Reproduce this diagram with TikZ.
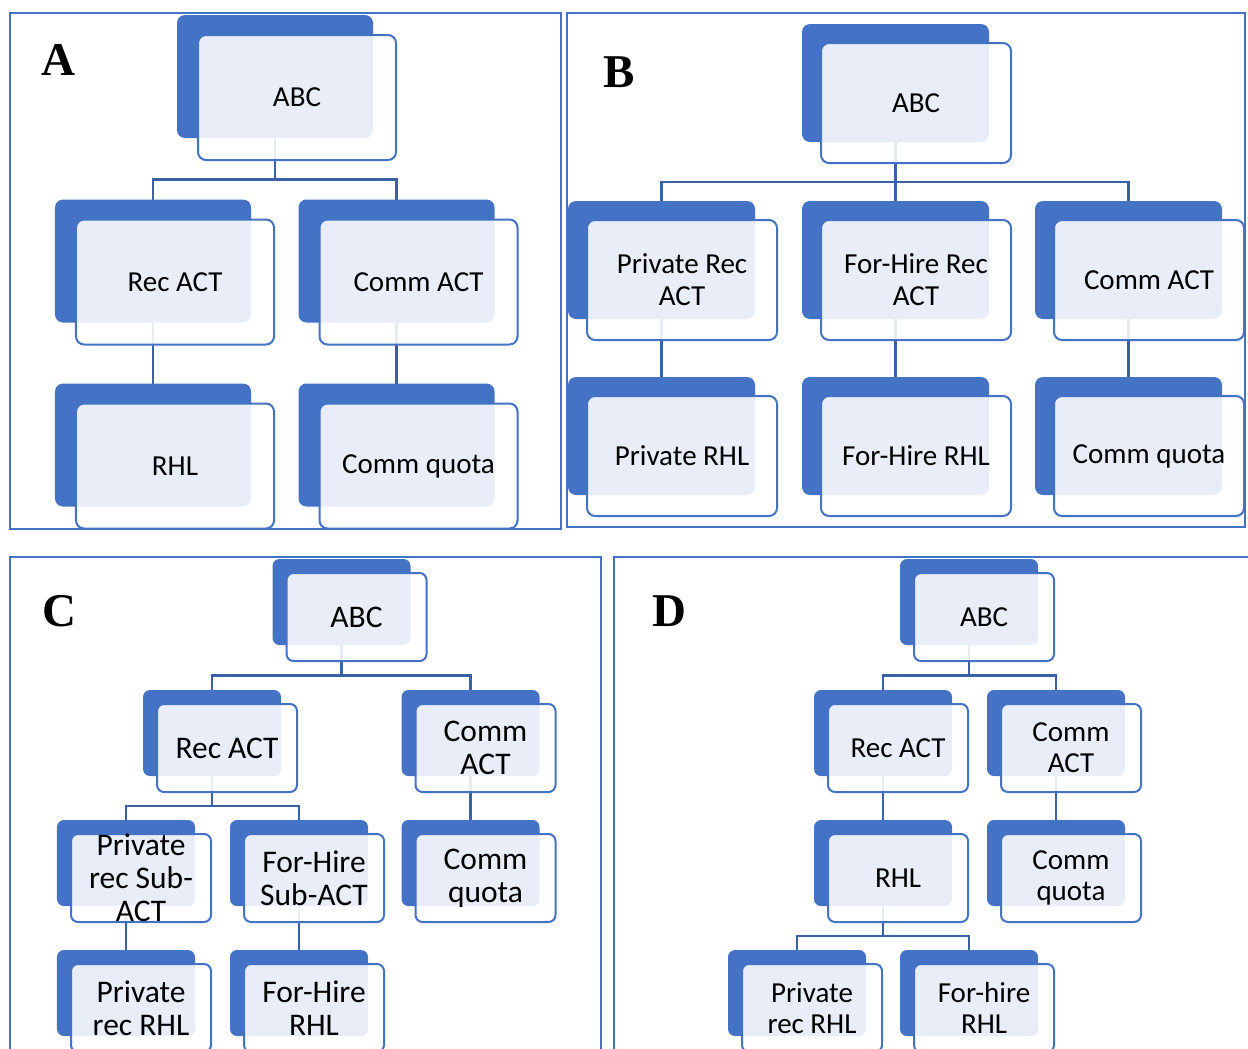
\documentclass[tikz,border=0pt]{standalone}
\usepackage{fontspec}
\setmainfont{Carlito}
\newfontfamily\panelfont{Liberation Serif}
\usepackage{tikz}
\usetikzlibrary{positioning,backgrounds,calc}
\usepackage{xcolor}
\definecolor{smartblue}{HTML}{4472C4}
\definecolor{linkblue}{HTML}{3A61A7}

% dark tab with the see-through card on top of it
\newcommand{\orgbox}[3]{%
  \node[tab] (#1-tab) at (#2) {};
  \node[card] (#1) at (#1-tab.north west) {#3};%
}

\begin{document}
\begin{tikzpicture}[x=1bp, y=-1bp,
  tab/.style={fill=smartblue, inner sep=0pt, outer sep=0pt},
  card/.style={draw=smartblue, line width=2bp, fill=white, fill opacity=0.88, text opacity=1,
    text=black, anchor=north west, inner sep=0pt, outer sep=0pt, align=center},
  big/.style={tab/.append style={minimum width=196bp, minimum height=123bp, rounded corners=8bp},
    card/.append style={minimum width=198bp, minimum height=125bp, rounded corners=8bp,
      xshift=21bp, yshift=-20bp, font=\fontsize{29bp}{32bp}\selectfont}},
  wide/.style={tab/.append style={minimum width=187bp, minimum height=118bp, rounded corners=8bp},
    card/.append style={minimum width=190bp, minimum height=120bp, rounded corners=8bp,
      xshift=19bp, yshift=-19bp, font=\fontsize{29bp}{32bp}\selectfont}},
  small/.style={tab/.append style={minimum width=138bp, minimum height=86bp, rounded corners=7bp},
    card/.append style={minimum width=140bp, minimum height=88bp, rounded corners=7bp,
      xshift=14bp, yshift=-14bp}},
  link/.style={draw=linkblue, line width=2.6bp},
  frame/.style={draw=smartblue, line width=1.6bp},
  panel/.style={font=\panelfont\bfseries\fontsize{47bp}{47bp}\selectfont, inner sep=0pt, anchor=base west}]

\useasboundingbox (0,0) rectangle (1248,1049);
\clip (0,0) rectangle (1248,1049);

% frames
\draw[frame] (10,13) rectangle (561,529);
\draw[frame] (567,13) rectangle (1245,527);
\draw[frame] (10,1060) |- (601,557) -- (601,1060);
\draw[frame] (614,1060) |- (1260,557);

% A
\begin{scope}[big]
\node[panel] (labA) at (41,75) {A};
\orgbox{aABC}{275,76.5}{ABC}
\orgbox{aRec}{153,261}{Rec ACT}
\orgbox{aComm}{396.5,261}{Comm ACT}
\orgbox{aRHL}{153,445}{RHL}
\orgbox{aQuota}{396.5,445}{Comm quota}
\coordinate (aBus) at ($(aABC.south)!.5!(aRec-tab.north)$);
\begin{scope}[on background layer]
  \foreach \kid in {aRec,aComm}
    \draw[link] (aABC-tab.south) -- (aABC-tab.south |- aBus) -| (\kid-tab.north);
  \draw[link] (aRec-tab.south) -- (aRHL-tab.north);
  \draw[link] (aComm-tab.south) -- (aQuota-tab.north);
\end{scope}
\end{scope}

% B
\begin{scope}[wide]
\node[panel] (labB) at (603,87) {B};
\orgbox{bABC}{895.5,83}{ABC}
\orgbox{bPriv}{661.5,260}{Private Rec\\ACT}
\orgbox{bHire}{895.5,260}{For-Hire Rec\\ACT}
\orgbox{bComm}{1128.5,260}{Comm ACT}
\orgbox{bPrivR}{661.5,436}{Private RHL}
\orgbox{bHireR}{895.5,436}{For-Hire RHL}
\orgbox{bQuota}{1128.5,436}{Comm quota}
\coordinate (bBus) at ($(bABC.south)!.5!(bHire-tab.north)$);
\begin{scope}[on background layer]
  \foreach \kid in {bPriv,bHire,bComm}
    \draw[link] (bABC-tab.south) -- (bABC-tab.south |- bBus) -| (\kid-tab.north);
  \draw[link] (bPriv-tab.south) -- (bPrivR-tab.north);
  \draw[link] (bHire-tab.south) -- (bHireR-tab.north);
  \draw[link] (bComm-tab.south) -- (bQuota-tab.north);
\end{scope}
\end{scope}

% C
\begin{scope}[small, card/.append style={font=\fontsize{31.5bp}{33bp}\selectfont}]
\node[panel] (labC) at (42,626) {C};
\orgbox{cABC}{341.5,602}{ABC}
\orgbox{cRec}{212,733}{Rec ACT}
\orgbox{cComm}{470.5,733}{Comm\\ACT}
\orgbox{cPrivS}{126,863}{Private\\rec Sub-\\ACT}
\orgbox{cHireS}{299,863}{For-Hire\\Sub-ACT}
\orgbox{cQuota}{470.5,863}{Comm\\quota}
\orgbox{cPrivR}{126,993}{Private\\rec RHL}
\orgbox{cHireR}{299,993}{For-Hire\\RHL}
\coordinate (cBus) at ($(cABC.south)!.5!(cRec-tab.north)$);
\coordinate (cRecBus) at ($(cRec.south)!.5!(cPrivS-tab.north)$);
\begin{scope}[on background layer]
  \foreach \kid in {cRec,cComm}
    \draw[link] (cABC-tab.south) -- (cABC-tab.south |- cBus) -| (\kid-tab.north);
  \foreach \kid in {cPrivS,cHireS}
    \draw[link] (cRec-tab.south) -- (cRec-tab.south |- cRecBus) -| (\kid-tab.north);
  \draw[link] (cComm-tab.south) -- (cQuota-tab.north);
  \draw[link] (cPrivS-tab.south) -- (cPrivR-tab.north);
  \draw[link] (cHireS-tab.south) -- (cHireR-tab.north);
\end{scope}
\end{scope}

% D
\begin{scope}[small, card/.append style={font=\fontsize{29bp}{31bp}\selectfont}]
\node[panel] (labD) at (652,626) {D};
\orgbox{dABC}{969,602}{ABC}
\orgbox{dRec}{883,733}{Rec ACT}
\orgbox{dComm}{1056,733}{Comm\\ACT}
\orgbox{dRHL}{883,863}{RHL}
\orgbox{dQuota}{1056,863}{Comm\\quota}
\orgbox{dPrivR}{797,993}{Private\\rec RHL}
\orgbox{dHireR}{969,993}{For-hire\\RHL}
\coordinate (dBus) at ($(dABC.south)!.5!(dRec-tab.north)$);
\coordinate (dRHLBus) at ($(dRHL.south)!.5!(dPrivR-tab.north)$);
\begin{scope}[on background layer]
  \foreach \kid in {dRec,dComm}
    \draw[link] (dABC-tab.south) -- (dABC-tab.south |- dBus) -| (\kid-tab.north);
  \foreach \kid in {dPrivR,dHireR}
    \draw[link] (dRHL-tab.south) -- (dRHL-tab.south |- dRHLBus) -| (\kid-tab.north);
  \draw[link] (dRec-tab.south) -- (dRHL-tab.north);
  \draw[link] (dComm-tab.south) -- (dQuota-tab.north);
\end{scope}
\end{scope}

\end{tikzpicture}
\end{document}
